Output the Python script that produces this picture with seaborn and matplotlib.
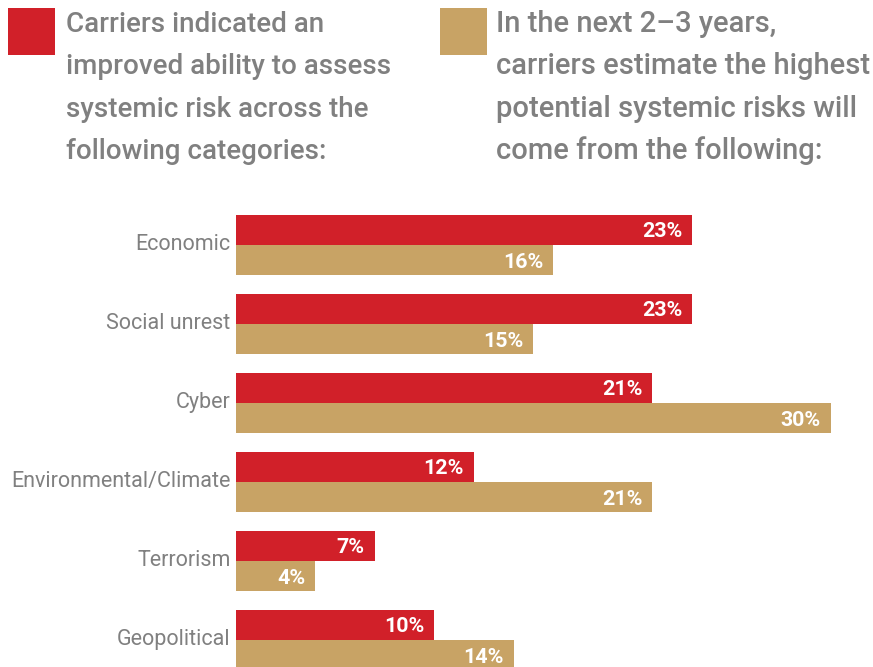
import matplotlib
matplotlib.use("Agg")
import matplotlib.pyplot as plt
import matplotlib.transforms as mtransforms
import seaborn as sns
import pandas as pd
from matplotlib.patches import Rectangle

categories = ["Economic", "Social unrest", "Cyber", "Environmental/Climate", "Terrorism", "Geopolitical"]
improved = [23, 23, 21, 12, 7, 10]
next_years = [16, 15, 30, 21, 4, 14]
series_keys = ["Improved ability", "Next 2–3 years"]
legend_lines = [
    ["Carriers indicated an", "improved ability to assess", "systemic risk across the", "following categories:"],
    ["In the next 2–3 years,", "carriers estimate the highest", "potential systemic risks will", "come from the following:"],
]

RED = "#D12029"
TAN = "#C8A365"
GRAY = "#808080"

sns.set_theme(style="white")
plt.rcParams["font.family"] = ["Roboto", "DejaVu Sans"]

df = pd.DataFrame({
    "category": categories * 2,
    "value": improved + next_years,
    "series": [series_keys[0]] * len(categories) + [series_keys[1]] * len(categories),
})

W, H = 873, 667
fig = plt.figure(figsize=(W / 100, H / 100), dpi=100)
ax = fig.add_axes([236 / W, 0, (W - 236) / W, (H - 190) / H])

sns.barplot(data=df, y="category", x="value", hue="series", order=categories,
            hue_order=series_keys, palette=[RED, TAN], orient="h", width=0.772,
            saturation=1, legend=False, linewidth=0, ax=ax)

ax.set_xlim(0, (W - 236) / 19.83)
ax.set_ylim((H - 245) / 79, (190 - 245) / 79)
for s in ax.spines.values():
    s.set_visible(False)
ax.set_xticks([])
ax.set_xlabel("")
ax.set_ylabel("")
ax.tick_params(axis="y", length=0, pad=4, labelsize=15.5, labelcolor=GRAY)
shift = mtransforms.ScaledTranslation(0, 3 / 100, fig.dpi_scale_trans)
for lbl in ax.get_yticklabels():
    lbl.set_transform(lbl.get_transform() + shift)

for container, vals in zip(ax.containers, [improved, next_years]):
    for patch, v in zip(container.patches, vals):
        y = patch.get_y() + patch.get_height() / 2
        ax.annotate(f"{v}%", xy=(patch.get_width(), y), xytext=(-10, 0),
                    textcoords="offset pixels", ha="right", va="center_baseline",
                    color="white", fontsize=15.4, fontweight="bold")

# legend
for (sx, tx), color, lines, fs in zip([(8, 66), (440, 496)], [RED, TAN], legend_lines, [20, 21]):
    fig.patches.append(Rectangle((sx / W, 1 - 55 / H), 47 / W, 47 / H,
                                 transform=fig.transFigure, color=color, linewidth=0))
    for i, line in enumerate(lines):
        fig.text(tx / W, 1 - (32 + 42.5 * i) / H, line, ha="left", va="baseline",
                 fontsize=fs, color=GRAY, fontweight="medium")

fig.savefig("out.png", dpi=100)
